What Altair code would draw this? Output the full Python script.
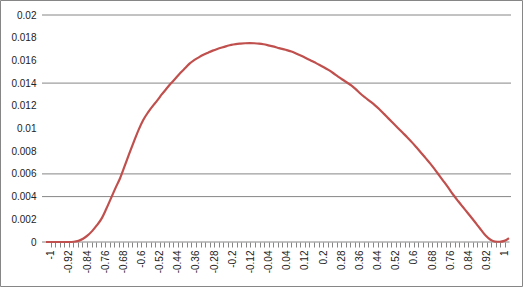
import altair as alt
import pandas as pd

# Category values (x) and series values (y)
CATEGORIES = [round(-1 + 0.02 * i, 2) for i in range(101)]
VALUES = [
    0.0, 0.0, 0.0, 0.0, 0.0, 0.0, 0.00002, 0.0001, 0.00028, 0.00058,          # -1.00 .. -0.82
    0.00098, 0.00148, 0.00206, 0.00290, 0.00382, 0.00475, 0.00562, 0.00670, 0.00780, 0.00886,  # -0.80 .. -0.62
    0.00988, 0.01075, 0.01140, 0.01195, 0.01245, 0.01300, 0.01350, 0.01398, 0.01443, 0.01488,  # -0.60 .. -0.42
    0.01530, 0.01572, 0.01603, 0.01627, 0.01649, 0.01668, 0.01686, 0.01701, 0.01714, 0.01726,  # -0.40 .. -0.22
    0.01737, 0.01744, 0.01748, 0.01751, 0.01752, 0.01751, 0.01748, 0.01742, 0.01733, 0.01723,  # -0.20 .. -0.02
    0.01712, 0.01701, 0.01691, 0.01678, 0.01661, 0.01643, 0.01624, 0.01604, 0.01583, 0.01562,  # 0.00 .. 0.18
    0.01540, 0.01516, 0.01489, 0.01460, 0.01432, 0.01405, 0.01378, 0.01342, 0.01304, 0.01271,  # 0.20 .. 0.38
    0.01239, 0.01206, 0.01170, 0.01129, 0.01087, 0.01046, 0.01005, 0.00964, 0.00923, 0.00880,  # 0.40 .. 0.58
    0.00834, 0.00787, 0.00739, 0.00691, 0.00638, 0.00583, 0.00528, 0.00472, 0.00414, 0.00361,  # 0.60 .. 0.78
    0.00310, 0.00260, 0.00209, 0.00158, 0.00105, 0.00055, 0.00020, 0.00004, 0.00002, 0.00010,  # 0.80 .. 0.98
    0.00035,  # 1.00
]
Y_TICKS = [0, 0.002, 0.004, 0.006, 0.008, 0.01, 0.012, 0.014, 0.016, 0.018, 0.02]
GRID_VALUES = [0.02, 0.014, 0.006, 0.004]

FONT = "Liberation Sans"
GRAY = "#868686"
RED = "#C0504D"
TEXT = "#222222"

df = pd.DataFrame({"x": CATEGORIES, "y": VALUES})
grid_df = pd.DataFrame({"g": GRID_VALUES})
one = pd.DataFrame({"a": [0]})

xscale = alt.Scale(domain=[-1, 1], nice=False, zero=False)
xlabscale = alt.Scale(domain=[-1.0207, 1.019], nice=False, zero=False)
yscale = alt.Scale(domain=[0, 0.02], nice=False)

yaxis = alt.Axis(
    values=Y_TICKS,
    format=".3~g",
    ticks=False,
    domain=False,
    grid=False,
    labelPadding=10,
    labelFont=FONT,
    labelFontSize=10,
    labelColor=TEXT,
)

border = alt.Chart(one).mark_rect(fillOpacity=0, stroke=GRAY, strokeWidth=1).encode(
    x=alt.value(-45.5), x2=alt.value(476.5), y=alt.value(-14.5), y2=alt.value(271.5)
)

grid = alt.Chart(grid_df).mark_rule(color=GRAY, strokeWidth=1).encode(
    y=alt.Y("g:Q", scale=yscale, axis=yaxis, title=None),
    x=alt.value(-4), x2=alt.value(465),
)

baseline = alt.Chart(one).mark_rule(color=GRAY, strokeWidth=1).encode(
    y=alt.value(227), x=alt.value(-4), x2=alt.value(463.5)
)

# invisible layer carrying the category axis
cat_axis = alt.Chart(df).mark_point(opacity=0).encode(
    x=alt.X(
        "x:Q",
        scale=xlabscale,
        title=None,
        axis=alt.Axis(
            values=CATEGORIES,
            labelExpr="round((datum.value + 1) * 50) % 4 == 0 ? '' + datum.value : ''",
            labelAngle=-90,
            labelAlign="right",
            labelBaseline="middle",
            labelOverlap=False,
            labelFlush=False,
            labelBound=False,
            labelPadding=3,
            labelFont=FONT,
            labelFontSize=10,
            labelColor=TEXT,
            tickColor=GRAY,
            tickSize=5,
            domain=False,
            grid=False,
        ),
    ),
    y=alt.Y("y:Q", scale=yscale, axis=yaxis, title=None),
)

line = alt.Chart(df).mark_line(color=RED, strokeWidth=2.2, interpolate="monotone").encode(
    x=alt.X("x:Q", scale=xscale, axis=None),
    y=alt.Y("y:Q", scale=yscale, axis=yaxis, title=None),
)

chart = (
    alt.layer(border, grid, baseline, cat_axis, line)
    .resolve_scale(x="independent")
    .properties(
        width=463,
        height=227,
        padding={"left": 46, "top": 15, "right": 16, "bottom": 47},
        autosize=alt.AutoSizeParams(type="none"),
        background="white",
    )
    .configure_view(stroke=None)
)

chart.save("out.html", embed_options={"renderer": "svg", "actions": False})
